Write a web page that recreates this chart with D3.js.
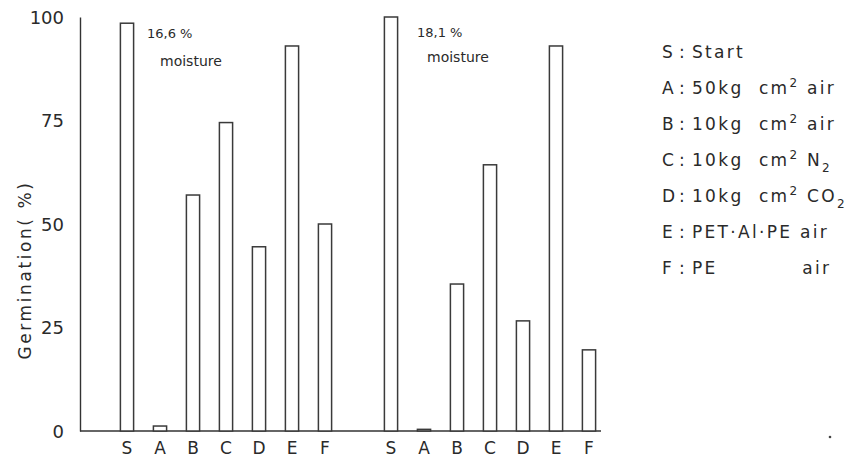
<!DOCTYPE html>
<html>
<head>
<meta charset="utf-8">
<script src="https://cdn.jsdelivr.net/npm/d3@7"></script>
<style>
  body { margin: 0; background: #fff; }
  svg { display: block; }
  text { font-family: "DejaVu Sans", "Liberation Sans", sans-serif; fill: #2a2a2a; white-space: pre; }
</style>
</head>
<body>
<div id="chart"></div>
<script>
// germination after storage, two moisture levels
const categories = ["S", "A", "B", "C", "D", "E", "F"];
const moisture166 = [98.5, 1.2, 57, 74.5, 44.5, 93, 50];
const moisture181 = [100, 0.4, 35.5, 64.3, 26.6, 93, 19.6];
const groupLabels = ["16,6 %", "18,1 %"];
const yTicks = [0, 25, 50, 75, 100];
const legendKeys = ["S", "A", "B", "C", "D", "E", "F"];
const legendLabels = ["Start", "50kg  cm^2 air", "10kg  cm^2 air", "10kg  cm^2 N_2",
                      "10kg  cm^2 CO_2", "PET·Al·PE air", "PE           air"];

const width = 855, height = 460;

const svg = d3.select("#chart").append("svg")
    .attr("width", width)
    .attr("height", height);

svg.append("rect").attr("width", width).attr("height", height).attr("fill", "#fff");

// one band per bar, with an empty slot between the two groups
const bars = [];
moisture166.forEach((v, i) => bars.push({key: "1" + categories[i], cat: categories[i], value: v}));
bars.push({key: "gap", cat: "", value: null});
moisture181.forEach((v, i) => bars.push({key: "2" + categories[i], cat: categories[i], value: v}));

const x = d3.scaleBand()
    .domain(bars.map(d => d.key))
    .range([110.5, 605.5])
    .paddingInner(0.6)
    .paddingOuter(0.3);

const y = d3.scaleLinear()
    .domain([0, 100])
    .range([431, 17]);

// y axis
const yAxis = svg.append("g")
    .attr("transform", "translate(80,0)")
    .call(d3.axisLeft(y).tickValues(yTicks).tickSize(0).tickSizeOuter(0).tickPadding(16));
yAxis.select(".domain").attr("stroke", "#333").attr("stroke-width", 1.4);
yAxis.selectAll("text")
    .style("font-size", "18px")
    .style("font-family", "'DejaVu Sans', sans-serif")
    .attr("fill", "#2a2a2a")
    .attr("dy", "0.35em");

// baseline
svg.append("line")
    .attr("x1", 80).attr("x2", 601)
    .attr("y1", y(0)).attr("y2", y(0))
    .attr("stroke", "#333").attr("stroke-width", 1.4);

// bars
svg.append("g").selectAll("rect")
    .data(bars.filter(d => d.value !== null))
    .join("rect")
    .attr("x", d => x(d.key))
    .attr("width", x.bandwidth())
    .attr("y", d => y(d.value))
    .attr("height", d => y(0) - y(d.value))
    .attr("fill", "#fff")
    .attr("stroke", "#3a3a3a")
    .attr("stroke-width", 1.5);

// category letters under the bars
const xAxis = svg.append("g")
    .attr("transform", `translate(0,${y(0)})`)
    .call(d3.axisBottom(x)
        .tickSize(0)
        .tickPadding(11)
        .tickFormat(k => k === "gap" ? "" : k.slice(1)));
xAxis.select(".domain").remove();
xAxis.selectAll("text")
    .style("font-size", "17px")
    .style("font-family", "'DejaVu Sans', sans-serif")
    .attr("fill", "#2a2a2a");

// axis title
svg.append("text")
    .attr("transform", "translate(31,270) rotate(-90)")
    .attr("text-anchor", "middle")
    .style("font-size", "17px")
    .style("letter-spacing", "2.6px")
    .text("Germination( %)");

// moisture notes
const notes = [
    {label: groupLabels[0], x: 147, y: 38, mx: 160, my: 66},
    {label: groupLabels[1], x: 417, y: 37, mx: 427, my: 62}
];
notes.forEach(n => {
    svg.append("text").attr("x", n.x).attr("y", n.y)
        .style("font-size", "13px").attr("fill", "#444").text(n.label);
    svg.append("text").attr("x", n.mx).attr("y", n.my)
        .style("font-size", "14px").attr("fill", "#444").text("moisture");
});

// legend, ^n is a superscript and _n a subscript
const legend = svg.append("g");
legendKeys.forEach((k, i) => {
    const ly = 58 + i * 36;
    legend.append("text").attr("x", 662).attr("y", ly)
        .style("font-size", "17px").text(k);
    legend.append("text").attr("x", 679).attr("y", ly)
        .style("font-size", "17px").text(":");
    const t = legend.append("text").attr("x", 692).attr("y", ly)
        .style("font-size", "17px").style("letter-spacing", "2.3px");
    let shift = 0;
    legendLabels[i].split(/(\^\d|_\d)/).filter(s => s.length).forEach(part => {
        let dy = 0, size = null, txt = part;
        if (part[0] === "^") { dy = -7; size = "12px"; txt = part.slice(1); }
        else if (part[0] === "_") { dy = 6; size = "12px"; txt = part.slice(1); }
        const s = t.append("tspan").attr("dy", dy - shift).text(txt);
        if (size) s.style("font-size", size);
        shift = dy;
    });
});

// speck in the lower right
svg.append("circle").attr("cx", 830).attr("cy", 437).attr("r", 1.3).attr("fill", "#444");
</script>
</body>
</html>
